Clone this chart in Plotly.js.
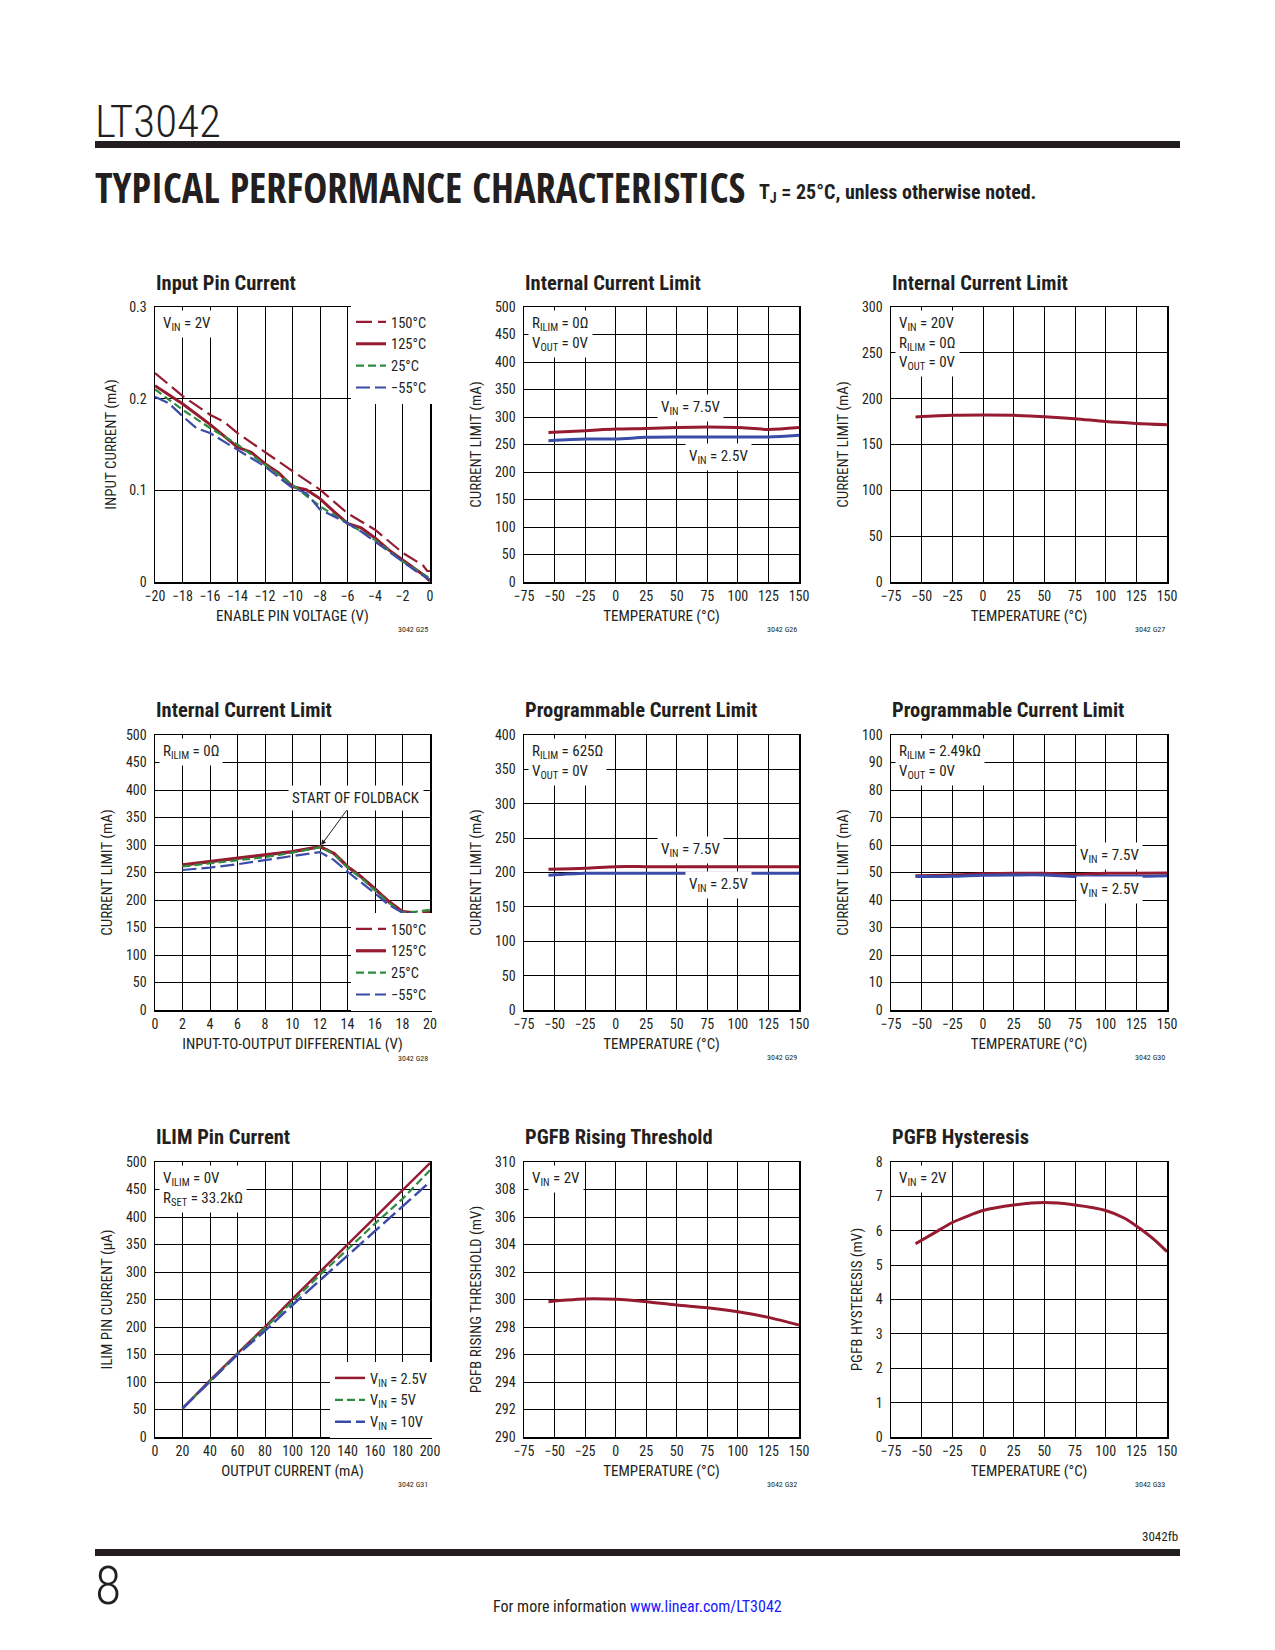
<!DOCTYPE html>
<html><head><meta charset="utf-8">
<script src="https://cdn.plot.ly/plotly-3.0.1.min.js"></script>
<style>html,body{margin:0;padding:0;background:#fff;}#page{width:1275px;height:1650px;}</style>
</head><body><div id="page"></div>
<script>
// ---------------- DATA ----------------
// G25 Input pin current vs enable pin voltage
const inPinV150 = [-20,-18,-16,-15,-14,-12,-10,-8,-6,-4,-2,-0.5,-0.2,0];
const inPinI150 = [0.228,0.203,0.1825,0.175,0.1625,0.1415,0.121,0.1007,0.075,0.057,0.032,0.018,0.012,0.012];
const inPinV125 = [-20,-18,-16,-14,-13,-12,-11,-10,-9,-8,-7,-6,-5,-4,-3,-2,-1,-0.5,0];
const inPinI125 = [0.214,0.1945,0.172,0.147,0.1415,0.129,0.119,0.104,0.1007,0.091,0.077,0.064,0.059,0.048,0.035,0.024,0.0135,0.008,0.001];
const inPinV25 = [-20,-18,-16,-14,-12,-10,-8,-6,-4,-2,-1,0];
const inPinI25 = [0.21,0.188,0.168,0.15,0.128,0.106,0.0825,0.064,0.046,0.0225,0.0135,0.004];
const inPinVm55 = [-20,-19,-18,-17,-16,-14,-12,-10,-9,-8,-6,-5,-4,-2,-1,0];
const inPinIm55 = [0.202,0.195,0.181,0.168,0.1625,0.144,0.126,0.1025,0.097,0.079,0.064,0.055,0.044,0.0225,0.0116,0.0025];
// G26 / G27 / G29 / G30 temperature sweeps
const tempA = [-55,-25,0,25,50,75,100,125,150];
const ilimInt7v5 = [272,275,278,279,281,282,281,277.5,281];
const ilimInt2v5 = [257,260,260,263,263.6,263.6,263.6,263.6,266.7];
const ilimInt20v = [180,181.8,182.2,181.8,180.4,178.2,175,173,171.6];
const ilim625_7v5 = [204.6,206,208.5,208.5,208.5,208.5,208.5,208.5,208.5];
const ilim625_2v5 = [196,198.8,198.8,198.8,198.8,198.8,198.8,198.8,198.8];
const ilim249_7v5 = [48.85,49.1,49.5,49.7,49.7,49.3,49.7,49.7,49.8];
const ilim249_2v5 = [48.5,48.6,49.0,49.1,49.1,48.5,48.6,48.6,48.8];
// G28 foldback
const diffV = [2,4,6,8,10,12,13,14,15,16,17,18,19,20];
const fold150 = [263,269,275,281,288,297,286,262,243,221,198,180,177,178];
const fold125 = [264,270,275,280.6,288,297,285,260.6,242,220,197,179,171,172];
const fold25 = [261,267,272,278,286,296,284,259,240,218,195,177.6,179,182];
const foldm55 = [254.5,259,265,273,280,287,273,251.5,232,212,191,177,174.5,174.5];
// G31 ILIM pin current
const ioutmA = [20,40,60,80,100,120,140,160,180,200];
const ilimPin2v5 = [51.6,103,152,200,251,300.7,349,400,449.6,498];
const ilimPin5v = [52,102,151,198,247,295,341,388,433,485];
const ilimPin10v = [52,101,150,193,240,285,330,375,420,464];
// G32 PGFB rising threshold
const tempB = [-55,-40,-25,0,25,50,75,100,125,150];
const pgfbRise = [299.84,299.96,300.04,300.01,299.84,299.6,299.4,299.11,298.7,298.14];
// G33 PGFB hysteresis
const tempC = [-55,-40,-25,-10,0,25,50,75,100,115,125,140,150];
const pgfbHyst = [5.62,5.93,6.24,6.46,6.59,6.75,6.82,6.75,6.59,6.37,6.14,5.73,5.39];

const titles = ['Input Pin Current','Internal Current Limit','Internal Current Limit','Internal Current Limit','Programmable Current Limit','Programmable Current Limit','ILIM Pin Current','PGFB Rising Threshold','PGFB Hysteresis'];
const xTitles = ['ENABLE PIN VOLTAGE (V)','TEMPERATURE (°C)','TEMPERATURE (°C)','INPUT-TO-OUTPUT DIFFERENTIAL (V)','TEMPERATURE (°C)','TEMPERATURE (°C)','OUTPUT CURRENT (mA)','TEMPERATURE (°C)','TEMPERATURE (°C)'];
const yTitles = ['INPUT CURRENT (mA)','CURRENT LIMIT (mA)','CURRENT LIMIT (mA)','CURRENT LIMIT (mA)','CURRENT LIMIT (mA)','CURRENT LIMIT (mA)','ILIM PIN CURRENT (µA)','PGFB RISING THRESHOLD (mV)','PGFB HYSTERESIS (mV)'];
const xRanges = [[-20,0],[-75,150],[-75,150],[0,20],[-75,150],[-75,150],[0,200],[-75,150],[-75,150]];
const xSteps = [2,25,25,2,25,25,20,25,25];
const yRanges = [[0,0.3],[0,500],[0,300],[0,500],[0,400],[0,100],[0,500],[290,310],[0,8]];
const ySteps = [0.1,50,50,50,50,10,50,2,1];
const codes = ['3042 G25','3042 G26','3042 G27','3042 G28','3042 G29','3042 G30','3042 G31','3042 G32','3042 G33'];
const conditions = ['V<sub>IN</sub> = 2V','R<sub>ILIM</sub> = 0Ω<br>V<sub>OUT</sub> = 0V','V<sub>IN</sub> = 20V<br>R<sub>ILIM</sub> = 0Ω<br>V<sub>OUT</sub> = 0V','R<sub>ILIM</sub> = 0Ω','R<sub>ILIM</sub> = 625Ω<br>V<sub>OUT</sub> = 0V','R<sub>ILIM</sub> = 2.49kΩ<br>V<sub>OUT</sub> = 0V','V<sub>ILIM</sub> = 0V<br>R<sub>SET</sub> = 33.2kΩ','V<sub>IN</sub> = 2V','V<sub>IN</sub> = 2V'];

// ---------------- STYLE / LAYOUT ----------------
const W=1275, H=1650;
const FONT='"Roboto Condensed","Liberation Sans Narrow",sans-serif';
const HEAD='"Open Sans Condensed","Roboto Condensed",sans-serif';
const INK='#231f20', RED='#961b31', GREEN='#2e8b3e', BLUE='#3a4ba8';
const cols=[[155,430],[524,799],[891,1167]];
const rows=[[307,582],[735,1010],[1162,1437]];
const titleY=[283,710,1137];
const fx=v=>v/W, fy=v=>1-v/H;
const ax=i=>i===0?'':String(i+1);
const TF=14, AF=15;

const layout={width:W,height:H,margin:{l:0,r:0,t:0,b:0,pad:0},paper_bgcolor:'#fff',plot_bgcolor:'#fff',
  font:{family:FONT,color:INK,size:TF},showlegend:true,annotations:[],shapes:[]};

for(let i=0;i<9;i++){
  const r=Math.floor(i/3), c=i%3, n=ax(i);
  const base={showgrid:true,gridcolor:'#000',gridwidth:1,showline:true,mirror:true,linecolor:'#000',linewidth:1.5,
    zeroline:false,ticks:'',ticklen:0,tickfont:{family:FONT,size:TF,color:INK},fixedrange:true,automargin:false};
  layout['xaxis'+n]=Object.assign({},base,{domain:[fx(cols[c][0]),fx(cols[c][1])],anchor:'y'+n,range:xRanges[i],
    tick0:xRanges[i][0],dtick:xSteps[i],ticklabelstandoff:1,title:{text:xTitles[i],font:{size:AF,family:FONT,color:INK},standoff:7}});
  layout['yaxis'+n]=Object.assign({},base,{domain:[fy(rows[r][1]),fy(rows[r][0])],anchor:'x'+n,range:yRanges[i],
    tick0:yRanges[i][0],dtick:ySteps[i],ticklabelstandoff:4,title:{text:yTitles[i],font:{size:AF,family:FONT,color:INK},standoff:9}});
  layout.annotations.push({text:'<b>'+titles[i]+'</b>',xref:'paper',yref:'paper',x:fx(cols[c][0]-1),y:fy(titleY[r]),
    xanchor:'left',yanchor:'middle',showarrow:false,font:{size:20.5,family:FONT,color:INK}});
  layout.annotations.push({text:codes[i],xref:'paper',yref:'paper',x:fx(cols[c][1]),y:fy(rows[r][1]+(i===3?48:47)),
    xanchor:'right',yanchor:'middle',showarrow:false,font:{size:8,family:FONT,color:INK}});
  layout.annotations.push({text:conditions[i],xref:'x'+n+' domain',yref:'y'+n+' domain',x:0,y:1,xshift:4,yshift:-3,
    xanchor:'left',yanchor:'top',align:'left',showarrow:false,bgcolor:'#fff',borderpad:3,font:{size:AF,family:FONT,color:INK}});
}

function lab(i,x,y,text){
  const n=ax(i);
  layout.annotations.push({text:text,xref:'x'+n,yref:'y'+n,x:x,y:y,showarrow:false,bgcolor:'#fff',borderpad:3,
    font:{size:AF,family:FONT,color:INK}});
}
lab(1,61,316,'V<sub>IN</sub> = 7.5V'); lab(1,84,227,'V<sub>IN</sub> = 2.5V');
lab(4,61,233,'V<sub>IN</sub> = 7.5V'); lab(4,84,182,'V<sub>IN</sub> = 2.5V');
lab(5,103,56,'V<sub>IN</sub> = 7.5V'); lab(5,103.5,43.6,'V<sub>IN</sub> = 2.5V');
layout.annotations.push({text:'START OF FOLDBACK',xref:'x4',yref:'y4',x:12,y:297,ax:36,ay:-49,showarrow:true,
  arrowhead:2,arrowsize:1,arrowwidth:1,arrowcolor:INK,standoff:2,bgcolor:'#fff',borderpad:3,font:{size:AF,family:FONT,color:INK}});

// legends
const legBase={bgcolor:'#fff',borderwidth:0,font:{size:14.5,family:FONT,color:INK},tracegroupgap:0,itemwidth:30,
  traceorder:'normal',xref:'paper',yref:'paper',xanchor:'right'};
layout.legend=Object.assign({},legBase,{x:fx(432),y:fy(306),yanchor:'top'});
layout.legend2=Object.assign({},legBase,{x:fx(432),y:fy(1011),yanchor:'bottom'});
layout.legend3=Object.assign({},legBase,{x:fx(432),y:fy(1438),yanchor:'bottom'});

// page furniture
layout.shapes.push({type:'rect',xref:'paper',yref:'paper',x0:fx(95),x1:fx(1180),y0:fy(148),y1:fy(141),fillcolor:INK,line:{width:0}});
layout.shapes.push({type:'rect',xref:'paper',yref:'paper',x0:fx(95),x1:fx(1180),y0:fy(1556),y1:fy(1549),fillcolor:INK,line:{width:0}});
const pageText=[
  {text:'LT3042',x:93,y:121,xa:'left',size:45,w:300,fam:FONT},
  {text:'TYPICAL PERFORMANCE CHARACTERISTICS',x:93,y:188,xa:'left',size:40.5,w:700,fam:HEAD},
  {text:'T<sub>J</sub> = 25°C, unless otherwise noted.',x:757,y:193,xa:'left',size:20,w:700,fam:FONT},
  {text:'3042fb',x:1180,y:1536,xa:'right',size:13,w:400,fam:FONT},
  {text:'8',x:93,y:1585,xa:'left',size:54,w:300,fam:FONT},
  {text:'For more information <span style="color:#1a1aff">www.linear.com/LT3042</span>',x:637,y:1606,xa:'center',size:16,w:400,fam:FONT}
];
pageText.forEach(t=>layout.annotations.push({text:t.text,xref:'paper',yref:'paper',x:fx(t.x),y:fy(t.y),
  xanchor:t.xa,yanchor:'middle',showarrow:false,font:{size:t.size,family:t.fam,color:INK,weight:t.w}}));

// ---------------- TRACES ----------------
const traces=[];
function line(i,x,y,color,width,dash,name,legend,shape){
  const n=ax(i);
  traces.push({type:'scatter',mode:'lines',x:x,y:y,xaxis:'x'+n,yaxis:'y'+n,name:name||'',
    showlegend:!!legend,legend:legend||'legend',line:{color:color,width:width,dash:dash||'solid',shape:shape||'linear',smoothing:0.8},
    hoverinfo:'skip'});
}
line(0,inPinV150,inPinI150,RED,2.2,'16px,6px','150°C','legend');
line(0,inPinV125,inPinI125,RED,3,'solid','125°C','legend');
line(0,inPinV25,inPinI25,GREEN,2.2,'8px,4px','25°C','legend');
line(0,inPinVm55,inPinIm55,BLUE,2.2,'14px,5px','−55°C','legend');

line(1,tempA,ilimInt7v5,RED,3,'solid','',null,'spline');
line(1,tempA,ilimInt2v5,BLUE,3,'solid','',null,'spline');
line(2,tempA,ilimInt20v,RED,3,'solid','',null,'spline');

line(3,diffV,fold150,RED,2.2,'16px,6px','150°C','legend2');
line(3,diffV,fold125,RED,3.2,'solid','125°C','legend2');
line(3,diffV,fold25,GREEN,2.2,'8px,4px','25°C','legend2');
line(3,diffV,foldm55,BLUE,2.2,'14px,5px','−55°C','legend2');

line(4,tempA,ilim625_7v5,RED,3,'solid','',null,'spline');
line(4,tempA,ilim625_2v5,BLUE,3,'solid','',null,'spline');
line(5,tempA,ilim249_7v5,RED,3,'solid','',null,'spline');
line(5,tempA,ilim249_2v5,BLUE,3,'solid','',null,'spline');

line(6,ioutmA,ilimPin2v5,RED,2.5,'solid','V<sub>IN</sub> = 2.5V','legend3');
line(6,ioutmA,ilimPin5v,GREEN,2.2,'8px,4px','V<sub>IN</sub> = 5V','legend3');
line(6,ioutmA,ilimPin10v,BLUE,2.5,'16px,5px','V<sub>IN</sub> = 10V','legend3');

line(7,tempB,pgfbRise,RED,3,'solid','',null,'spline');
line(8,tempC,pgfbHyst,RED,3,'solid','',null,'spline');

Plotly.newPlot('page',traces,layout,{displayModeBar:false,staticPlot:true});
</script></body></html>
